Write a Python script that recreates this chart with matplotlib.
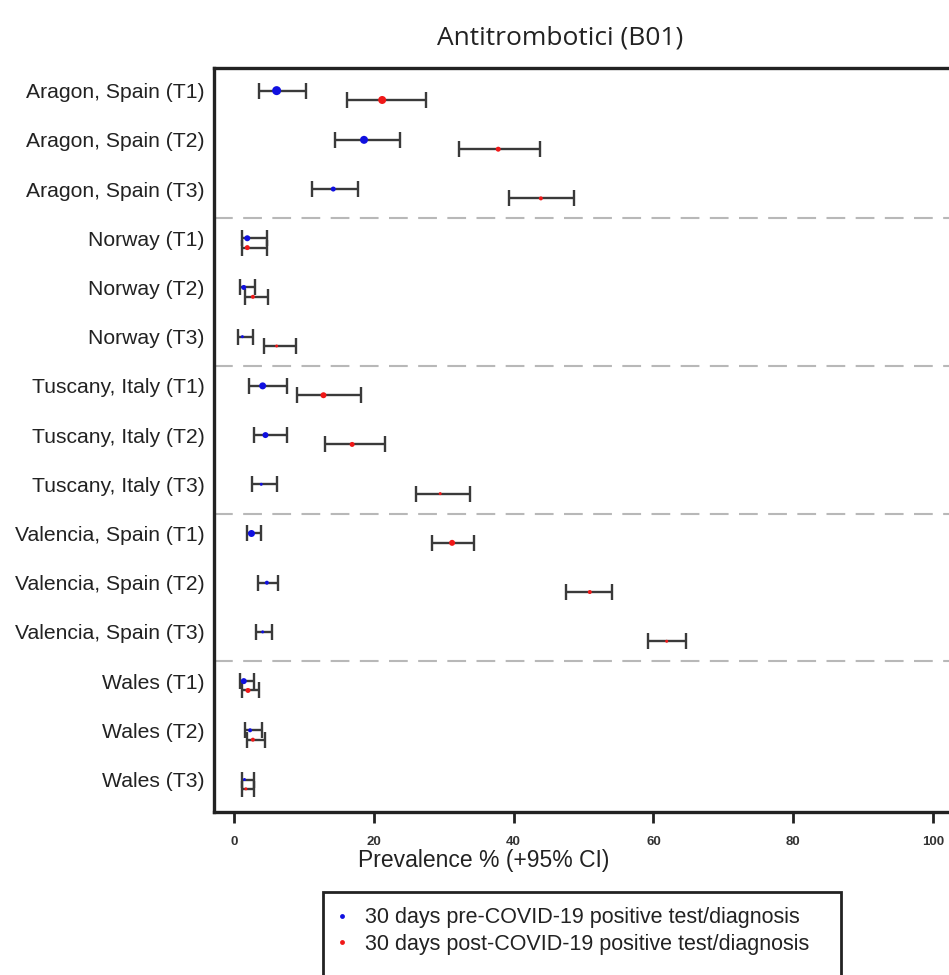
import matplotlib
matplotlib.use("Agg")
import matplotlib.pyplot as plt
from matplotlib.lines import Line2D
from matplotlib.patches import Rectangle
import numpy as np

# Regions and periods shown on the y axis
regions = ["Aragon, Spain", "Norway", "Tuscany, Italy", "Valencia, Spain", "Wales"]
periods = ["T1", "T2", "T3"]
row_labels = [f"{r} ({p})" for r in regions for p in periods]

# Prevalence (%) with 95% CI, 30 days before the positive test/diagnosis
pre_est = [6.1, 18.6, 14.2, 1.9, 1.4, 1.2, 4.1, 4.5, 3.9, 2.5, 4.7, 4.1, 1.4, 2.3, 1.5]
pre_lo = [3.6, 14.4, 11.2, 1.1, 0.9, 0.6, 2.1, 2.8, 2.6, 1.8, 3.5, 3.1, 0.8, 1.6, 1.1]
pre_hi = [10.3, 23.7, 17.8, 4.7, 3.0, 2.7, 7.6, 7.6, 6.1, 3.9, 6.3, 5.4, 2.9, 4.0, 2.8]

# Prevalence (%) with 95% CI, 30 days after the positive test/diagnosis
post_est = [21.2, 37.8, 43.9, 1.9, 2.7, 6.1, 12.8, 16.9, 29.5, 31.2, 50.9, 61.9, 2.0, 2.7, 1.7]
post_lo = [16.1, 32.2, 39.4, 1.1, 1.6, 4.3, 9.0, 13.0, 26.0, 28.3, 47.5, 59.2, 1.2, 1.8, 1.1]
post_hi = [27.5, 43.8, 48.7, 4.7, 4.9, 8.9, 18.1, 21.6, 33.7, 34.3, 54.1, 64.7, 3.6, 4.4, 2.8]

# Point sizes (pixels) per row, larger for the bigger strata
pre_size_px = [9, 8, 5, 6, 5, 3, 7, 6, 3, 7, 4, 3, 6, 4, 3]
post_size_px = [8, 5, 4, 5, 4, 3, 6, 5, 3, 6, 4, 3, 5, 4, 3]

W, H = 949, 975
fig = plt.figure(figsize=(W / 100, H / 100), dpi=100)

ax_left, ax_right, ax_top, ax_bottom = 214, 962, 68, 812
ax = fig.add_axes([ax_left / W, 1 - ax_bottom / H,
                   (ax_right - ax_left) / W, (ax_bottom - ax_top) / H])

x0_px, px_per_unit = 234, 6.99
ax.set_xlim((ax_left - x0_px) / px_per_unit, (ax_right - x0_px) / px_per_unit)

n = len(row_labels)
y_pre = np.arange(n, dtype=float)
y_post = y_pre + 0.19
ax.set_ylim(14.66, -0.46)

bar_kw = dict(fmt="none", ecolor="#3a3a3a", elinewidth=1.7, capsize=5.5,
              capthick=1.7, zorder=2)

pre_est_a = np.array(pre_est)
post_est_a = np.array(post_est)
ax.errorbar(pre_est_a, y_pre,
            xerr=[pre_est_a - np.array(pre_lo), np.array(pre_hi) - pre_est_a], **bar_kw)
ax.errorbar(post_est_a, y_post,
            xerr=[post_est_a - np.array(post_lo), np.array(post_hi) - post_est_a], **bar_kw)

ax.scatter(pre_est_a, y_pre, s=(np.array(pre_size_px) * 0.72) ** 2,
           color="#1010e0", zorder=3, linewidths=0)
ax.scatter(post_est_a, y_post, s=(np.array(post_size_px) * 0.72) ** 2,
           color="#f01818", zorder=3, linewidths=0)

# Dashed separators between regions
for g in range(1, len(regions)):
    ysep = (g * 3 - 1 + 0.19 + g * 3) / 2
    ax.axhline(ysep, color="#b8b8b8", lw=1.5, dashes=(9, 5), zorder=1)

ax.set_yticks(y_pre)
ax.set_yticklabels(row_labels, fontsize=15.2, family="Liberation Sans", color="#222222")
ax.tick_params(axis="y", length=0, pad=7)

ax.set_xticks([0, 20, 40, 60, 80, 100])
ax.tick_params(axis="x", direction="out", length=8, width=2, color="#222222",
               pad=9, labelsize=9.5)
for lab in ax.get_xticklabels():
    lab.set_fontweight("bold")
    lab.set_family("Liberation Sans")
    lab.set_color("#333333")

ax.set_xlabel("Prevalence % (+95% CI)", fontsize=16.5, family="Liberation Sans",
              color="#222222")
ax.xaxis.set_label_coords((484 - ax_left) / (ax_right - ax_left),
                          -(860 - ax_bottom) / (ax_bottom - ax_top), transform=ax.transAxes)
ax.xaxis.label.set_va("center")

for side in ("left", "bottom", "top", "right"):
    ax.spines[side].set_linewidth(2.4)
    ax.spines[side].set_color("#222222")

fig.text(560 / W, 1 - 38 / H, "Antitrombotici (B01)", ha="center", va="center",
         fontsize=19, family="Open Sans", color="#222222")

# Legend box runs past the lower edge of the figure
fig.patches.append(Rectangle((323 / W, 1 - 1000 / H), (841 - 323) / W, (1000 - 892) / H,
                             transform=fig.transFigure, fill=False,
                             edgecolor="#222222", linewidth=2))
handles = [Line2D([], [], ls="none", marker="o", markersize=3.5, color="#1010e0",
                  markeredgewidth=0),
           Line2D([], [], ls="none", marker="o", markersize=3.5, color="#f01818",
                  markeredgewidth=0)]
leg = fig.legend(handles,
                 ["30 days pre-COVID-19 positive test/diagnosis",
                  "30 days post-COVID-19 positive test/diagnosis"],
                 loc="upper left", bbox_to_anchor=(314 / W, 1 - 890 / H),
                 frameon=False, handlelength=1.0, handletextpad=0.55,
                 labelspacing=0.25, borderpad=0.3,
                 prop={"family": "Liberation Sans", "size": 15.5})
for t in leg.get_texts():
    t.set_color("#222222")

fig.savefig("out.png", dpi=100)
